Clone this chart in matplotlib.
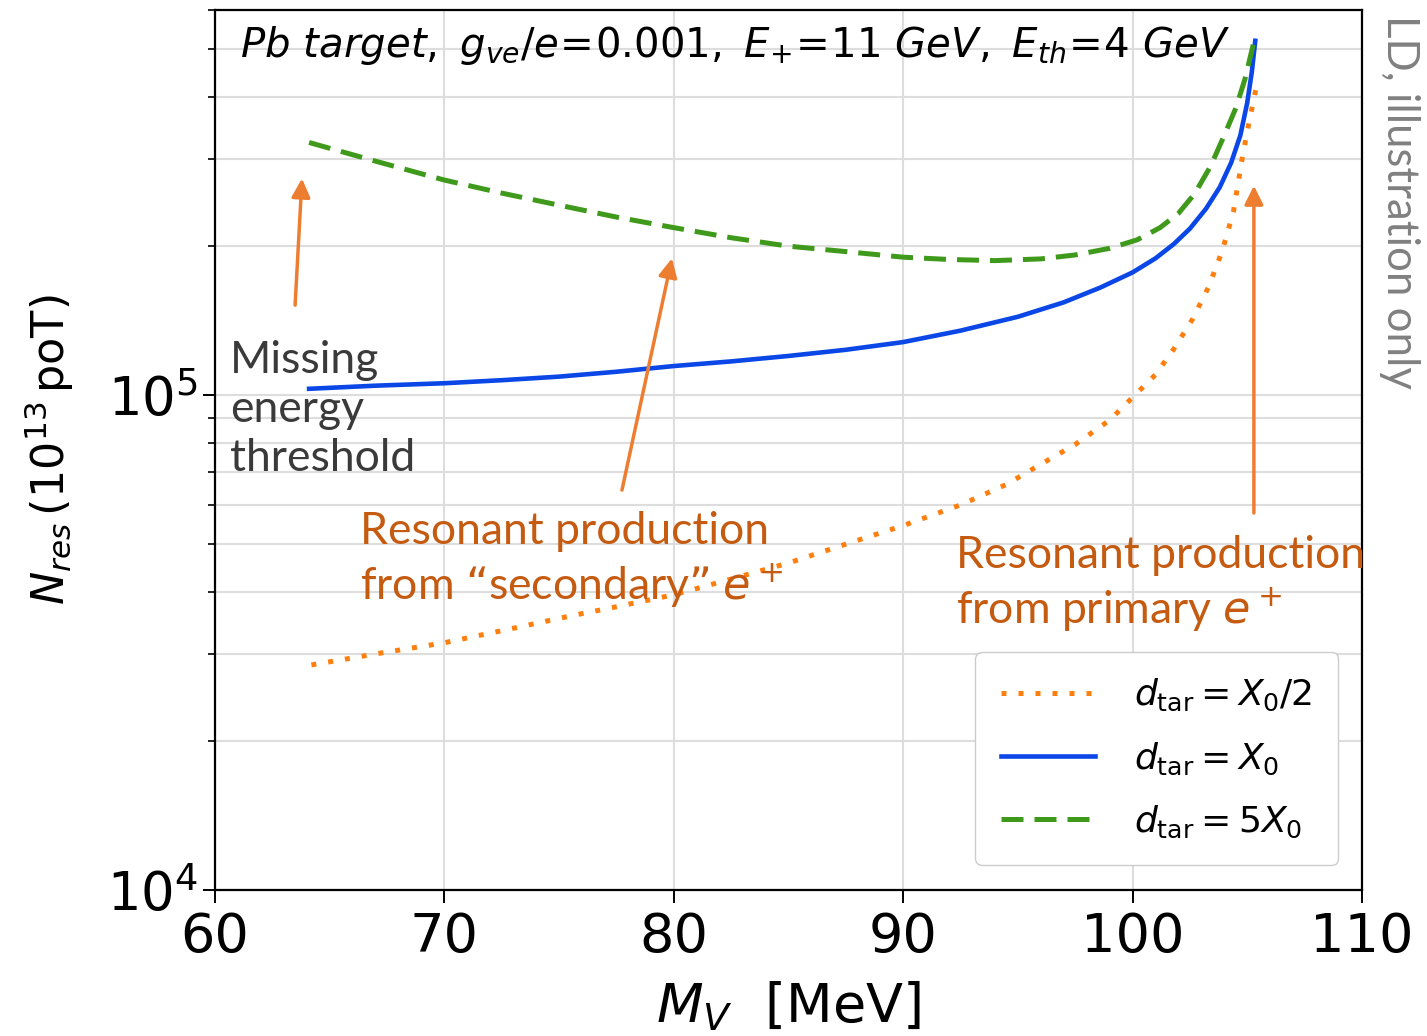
import matplotlib
matplotlib.use("Agg")
import matplotlib.pyplot as plt
from matplotlib.ticker import NullFormatter, LogLocator

# Resonant yield vs. vector mass for three target thicknesses
mass_half = [64.2, 67.0, 70.0, 73.0, 75.5, 77.3, 80.0, 82.5, 85.0, 87.5, 90.0, 92.5, 94.5,
             96.0, 97.5, 99.0, 100.1, 101.0, 101.8, 102.6, 103.3, 103.9, 104.4, 104.8,
             105.1, 105.4]
n_half = [2.85e4, 3.0e4, 3.16e4, 3.38e4, 3.58e4, 3.72e4, 3.95e4, 4.25e4, 4.58e4, 5.0e4,
          5.45e4, 6.0e4, 6.6e4, 7.25e4, 7.95e4, 8.9e4, 1.0e5, 1.1e5, 1.24e5, 1.42e5,
          1.65e5, 1.95e5, 2.35e5, 3.05e5, 3.6e5, 4.2e5]

mass_one = [64.1, 67.0, 70.0, 72.5, 75.0, 77.5, 80.0, 82.5, 85.0, 87.5, 90.0, 92.5, 95.0,
            97.0, 98.6, 100.0, 101.0, 101.8, 102.5, 103.2, 103.8, 104.3, 104.7, 105.0,
            105.2, 105.35]
n_one = [1.03e5, 1.045e5, 1.057e5, 1.072e5, 1.09e5, 1.115e5, 1.145e5, 1.17e5, 1.2e5,
         1.235e5, 1.28e5, 1.35e5, 1.44e5, 1.54e5, 1.65e5, 1.77e5, 1.89e5, 2.02e5, 2.17e5,
         2.38e5, 2.63e5, 2.95e5, 3.35e5, 3.9e5, 4.5e5, 5.2e5]

mass_five = [64.1, 67.0, 70.0, 72.5, 75.0, 77.5, 80.0, 82.5, 85.0, 87.5, 90.0, 92.0, 94.0,
             96.0, 97.5, 99.0, 100.2, 101.2, 102.0, 102.7, 103.4, 104.0, 104.5, 104.9, 105.3]
n_five = [3.24e5, 2.97e5, 2.72e5, 2.56e5, 2.42e5, 2.29e5, 2.18e5, 2.08e5, 2.0e5, 1.95e5,
          1.90e5, 1.88e5, 1.87e5, 1.885e5, 1.92e5, 1.98e5, 2.06e5, 2.18e5, 2.33e5, 2.55e5,
          2.9e5, 3.35e5, 3.8e5, 4.35e5, 5.2e5]

labels = [r'$d_{\rm tar}=X_0/2$', r'$d_{\rm tar}=X_0$', r'$d_{\rm tar}=5X_0$']

note_font = 'Lato'
note_orange = '#c55a11'
arrow_orange = '#ed7d31'

fig = plt.figure(figsize=(14.27, 10.36), dpi=100)
ax = fig.add_axes([0.1507, 0.1409, 0.8037, 0.8494])

ax.plot(mass_half, n_half, color='#ff7f0e', lw=3.6, linestyle=(0, (1, 2.4)), label=labels[0])
ax.plot(mass_one, n_one, color='#0a47e6', lw=3.3, label=labels[1])
ax.plot(mass_five, n_five, color='#3f9a1c', lw=3.6, linestyle=(0, (4.4, 2.2)), label=labels[2])

ax.set_yscale('log')
ax.set_xlim(60, 110)
ax.set_ylim(1e4, 6e5)
ax.yaxis.set_minor_locator(LogLocator(base=10, subs=range(2, 10)))
ax.yaxis.set_minor_formatter(NullFormatter())

ax.grid(True, which='major', color='#dddddd', lw=1.5)
ax.grid(True, which='minor', axis='y', color='#dddddd', lw=1.5)
ax.set_axisbelow(True)

for s in ax.spines.values():
    s.set_linewidth(1.6)
ax.tick_params(axis='x', which='major', length=9, width=1.4, labelsize=39, pad=6)
ax.tick_params(axis='y', which='major', length=9, width=1.4, labelsize=38)
ax.tick_params(axis='y', which='minor', length=5, width=1.2)

ax.set_xlabel(r'$M_V$  [MeV]', fontsize=39, labelpad=12)
ax.set_ylabel(r'$N_{res}\,(10^{13}\,\mathrm{poT})$', fontsize=32, labelpad=22)

ax.text(0.022, 0.96, r'$Pb\ target,\ g_{ve}/e\!=\!0.001,\ E_{+}\!=\!11\ GeV,\ E_{th}\!=\!4\ GeV$',
        transform=ax.transAxes, fontsize=29, va='center', ha='left')

leg = ax.legend(loc='lower right', bbox_to_anchor=(0.979, 0.028), borderaxespad=0,
                fontsize=26, handlelength=2.6, handletextpad=1.1, labelspacing=0.75,
                borderpad=0.7, fancybox=True, framealpha=1, edgecolor='#cccccc')

# Arrows and notes
arrow = dict(arrowstyle='-|>', color=arrow_orange, lw=2.5, mutation_scale=28, shrinkA=0, shrinkB=0)
ax.annotate('', xy=(63.79, 2.74e5), xytext=(63.49, 1.52e5), arrowprops=arrow)
ax.annotate('', xy=(79.92, 1.89e5), xytext=(77.74, 6.43e4), arrowprops=arrow)
ax.annotate('', xy=(105.29, 2.65e5), xytext=(105.29, 5.78e4), arrowprops=arrow)

ax.text(60.65, 9.35e4, 'Missing\nenergy\nthreshold', fontsize=32, family=note_font,
        color='#3a3a3a', va='center', ha='left', linespacing=1.25)
ax.text(66.32, 4.63e4, 'Resonant production\nfrom \u201csecondary\u201d $e^+$', fontsize=32,
        family=note_font, color=note_orange, va='center', ha='left', linespacing=1.25)
ax.text(92.30, 4.15e4, 'Resonant production\nfrom primary $e^+$', fontsize=32,
        family=note_font, color=note_orange, va='center', ha='left', linespacing=1.25)

fig.text(0.981, 0.9855, 'LD, illustration only', rotation=-90, fontsize=31.5, family=note_font,
         color='#808080', va='top', ha='center')

fig.savefig('out.png', dpi=100)
